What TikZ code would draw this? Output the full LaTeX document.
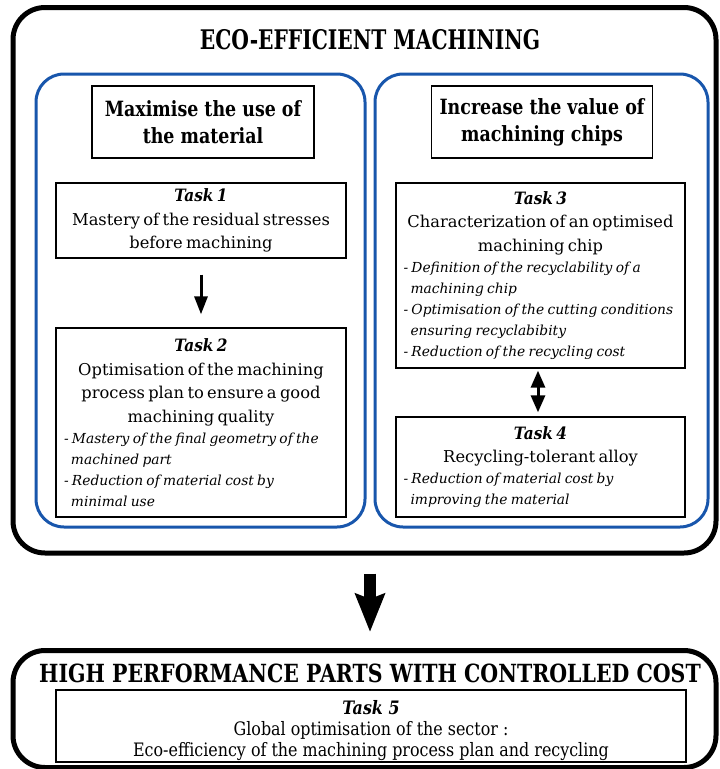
\documentclass[tikz,border=0pt]{standalone}
\usepackage{fontspec}
\setmainfont{DejaVu Serif}
\newfontfamily\tasktf{DejaVu Serif}[FakeStretch=0.9]
\newfontfamily\titlef{DejaVu Serif}[FakeStretch=0.75]
\newfontfamily\headf{DejaVu Serif}[FakeStretch=0.83]
\newfontfamily\bigf{DejaVu Serif}[FakeStretch=0.82]
\newfontfamily\taskfivef{DejaVu Serif}[FakeStretch=0.86]
\usetikzlibrary{arrows.meta}
\definecolor{frameblue}{RGB}{24,86,172}
\newcommand{\tasktitle}[1]{{\tasktf\fontsize{17}{22}\selectfont\bfseries\itshape #1\par}}
\newcommand{\tasktext}[1]{{\fontsize{16.3}{23.5}\selectfont #1\par}}
\newcommand{\taskitem}[1]{{\raggedright\fontsize{13.8}{21}\selectfont\itshape\hangindent=7pt\hangafter=1 #1\par}}
\begin{document}
\begin{tikzpicture}[x=1pt,y=-1pt,
  outerbox/.style={draw=black,line width=5pt,rounded corners=32pt,inner sep=0pt},
  bluebox/.style={draw=frameblue,line width=3pt,rounded corners=28pt,inner sep=0pt},
  headbox/.style={draw=black,line width=1.8pt,inner sep=0pt,align=center,
    font=\headf\bfseries\fontsize{21}{27}\selectfont},
  taskbox/.style={draw=black,line width=1.3pt,inner sep=0pt,text width=274pt,align=center,
    execute at begin node={\setlength{\parindent}{0pt}}},
  thinarrow/.style={line width=3pt,-{Triangle[width=13pt,length=18pt]}},
  dblarrow/.style={line width=3pt,{Triangle[width=14pt,length=17pt]}-{Triangle[width=14pt,length=17pt]}},
  bigarrow/.style={line width=12.5pt,-{Stealth[width=29pt,length=38pt,inset=5pt]}}]
\useasboundingbox (0,0) rectangle (720,769);

% outer frames
\node[outerbox,minimum width=703pt,minimum height=545.5pt] (outer) at (364.5,280.25) {};
\node[outerbox,minimum width=703pt,minimum height=117pt] (bottom) at (364.5,709) {};

\node[font=\titlef\bfseries\fontsize{27}{30}\selectfont] (title) at (370,40) {ECO-EFFICIENT MACHINING};

% blue frames
\node[bluebox,minimum width=329pt,minimum height=453pt] (leftframe) at (200.5,300.5) {};
\node[bluebox,minimum width=333pt,minimum height=453pt] (rightframe) at (541.5,300.5) {};

% header boxes
\node[headbox,minimum width=222pt,minimum height=72pt] (lefthead) at (203,122) {Maximise the use of\\the material};
\node[headbox,minimum width=221pt,minimum height=72pt] (righthead) at (542,122) {Increase the value of\\machining chips};

% task boxes
\node[taskbox,minimum width=290pt,minimum height=75pt] (task1) at (201,220.5) {%
  \tasktitle{Task 1}%
  \tasktext{Mastery of the residual stresses\\before machining}};

\node[taskbox,minimum width=290pt,minimum height=189pt] (task2) at (201,422.5) {%
  \tasktitle{Task 2}%
  \tasktext{Optimisation of the machining\\process plan to ensure a good\\machining quality}%
  \taskitem{- Mastery of the final geometry of the\hfil\break machined part}%
  \taskitem{- Reduction of material cost by\hfil\break minimal use}};

\node[taskbox,minimum width=289pt,minimum height=185pt] (task3) at (540.5,275.5) {%
  \tasktitle{Task 3}%
  \tasktext{Characterization of an optimised\\machining chip}%
  \taskitem{- Definition of the recyclability of a\hfil\break machining chip}%
  \taskitem{- Optimisation of the cutting conditions\hfil\break ensuring recyclabibity}%
  \taskitem{- Reduction of the recycling cost}};

\node[taskbox,minimum width=289pt,minimum height=100pt] (task4) at (540.5,467) {%
  \tasktitle{Task 4}%
  \tasktext{Recycling-tolerant alloy}%
  \taskitem{- Reduction of material cost by\hfil\break improving the material}};

% bottom part
\node[font=\bigf\bfseries\fontsize{25}{28}\selectfont] (result) at (370,673) {HIGH PERFORMANCE PARTS WITH CONTROLLED COST};
\node[draw=black,line width=1.3pt,minimum width=630pt,minimum height=72pt,inner sep=0pt] (task5) at (371,726) {};
\node[align=center,inner sep=0pt,font=\taskfivef\fontsize{18.5}{21}\selectfont] (task5text) at (371,731)
  {{\bfseries\itshape Task 5}\\Global optimisation of the sector :\\Eco-efficiency of the machining process plan and recycling};

% arrows
\draw[thinarrow,shorten <=16pt,shorten >=13pt] (task1.south) -- (task2.north);
\draw[dblarrow,shorten <=2pt,shorten >=4pt] ([xshift=-2.5pt]task3.south) -- ([xshift=-2.5pt]task4.north);
\draw[bigarrow,shorten <=18pt,shorten >=16pt] ([xshift=5.5pt]outer.south) -- ([xshift=5.5pt]bottom.north);
\end{tikzpicture}
\end{document}
